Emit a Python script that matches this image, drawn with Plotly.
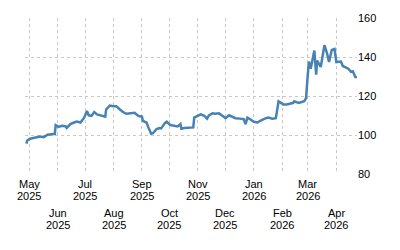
import plotly.graph_objects as go

dates = [
    "2025-04-28", "2025-04-29", "2025-05-02", "2025-05-06", "2025-05-10", "2025-05-13",
    "2025-05-17", "2025-05-21", "2025-05-26", "2025-05-29", "2025-05-30", "2025-06-02",
    "2025-06-06", "2025-06-10", "2025-06-11", "2025-06-15", "2025-06-19", "2025-06-22",
    "2025-06-26", "2025-06-30", "2025-07-03", "2025-07-05", "2025-07-08", "2025-07-11",
    "2025-07-14", "2025-07-19", "2025-07-23", "2025-07-24", "2025-07-28", "2025-08-01",
    "2025-08-04", "2025-08-08", "2025-08-11", "2025-08-15", "2025-08-19", "2025-08-24",
    "2025-08-28", "2025-09-01", "2025-09-02", "2025-09-06", "2025-09-08", "2025-09-11",
    "2025-09-13", "2025-09-17", "2025-09-20", "2025-09-22", "2025-09-26", "2025-09-28",
    "2025-10-02", "2025-10-06", "2025-10-10", "2025-10-13", "2025-10-14", "2025-10-17",
    "2025-10-22", "2025-10-27", "2025-10-28", "2025-10-31", "2025-11-04", "2025-11-08",
    "2025-11-11", "2025-11-13", "2025-11-17", "2025-11-20", "2025-11-24", "2025-11-28",
    "2025-12-01", "2025-12-05", "2025-12-08", "2025-12-12", "2025-12-17", "2025-12-21",
    "2025-12-23", "2025-12-25", "2025-12-28", "2026-01-01", "2026-01-05", "2026-01-08",
    "2026-01-14", "2026-01-17", "2026-01-21", "2026-01-25", "2026-01-28", "2026-01-30",
    "2026-02-02", "2026-02-06", "2026-02-10", "2026-02-13", "2026-02-14", "2026-02-19",
    "2026-02-25", "2026-02-27", "2026-02-28", "2026-03-02", "2026-03-04", "2026-03-08",
    "2026-03-10", "2026-03-11", "2026-03-15", "2026-03-19", "2026-03-22", "2026-03-24",
    "2026-03-27", "2026-03-30", "2026-04-01", "2026-04-06", "2026-04-08", "2026-04-11",
    "2026-04-14", "2026-04-17", "2026-04-19", "2026-04-22", "2026-04-23",
]
values = [
    95.6, 97.2, 98.1, 98.6, 98.9, 99.2,
    98.9, 100.1, 100.4, 100.6, 105.1, 104.2,
    104.7, 104.4, 103.6, 105.6, 106.4, 106.9,
    106.4, 108.9, 112.3, 110.1, 109.8, 111.8,
    110.6, 110.1, 109.4, 113.1, 115.1, 114.8,
    114.8, 113.1, 111.9, 110.9, 111.1, 111.4,
    109.8, 109.4, 107.3, 106.4, 103.9, 100.6,
    100.9, 103.1, 103.6, 103.4, 106.1, 106.8,
    105.1, 104.7, 104.4, 105.6, 103.2, 103.6,
    103.9, 103.9, 108.9, 109.8, 110.6, 109.8,
    108.4, 110.1, 111.1, 110.9, 111.1, 109.8,
    108.6, 110.1, 109.4, 108.6, 108.4, 108.1,
    105.6, 108.9, 108.1, 106.8, 106.4, 107.3,
    108.6, 108.9, 108.4, 108.6, 117.3, 116.5,
    115.7, 115.7, 116.1, 116.5, 117.3, 116.5,
    117.3, 119.0, 125.7, 137.7, 134.0, 143.3,
    131.0, 138.2, 134.9, 146.1, 141.6, 137.4,
    143.6, 144.1, 137.4, 137.7, 135.4, 134.9,
    134.0, 132.4, 132.7, 129.4, 130.4,
]

tick_dates = [
    "2025-05-01", "2025-06-01", "2025-07-01", "2025-08-01", "2025-09-01", "2025-10-01",
    "2025-11-01", "2025-12-01", "2026-01-01", "2026-02-01", "2026-03-01", "2026-04-01",
]
tick_months = ["May", "Jun", "Jul", "Aug", "Sep", "Oct", "Nov", "Dec", "Jan", "Feb", "Mar", "Apr"]
tick_years = ["2025", "2025", "2025", "2025", "2025", "2025", "2025", "2025", "2026", "2026", "2026", "2026"]
y_ticks = [80, 100, 120, 140, 160]

FONT = "Liberation Sans"
TXT = "#000000"

fig = go.Figure()
fig.add_trace(go.Scatter(
    x=dates, y=values, mode="lines",
    line=dict(color="#4682b4", width=2.5),
    hoverinfo="skip",
))

plot_top, plot_bottom = 15, 174.3
plot_h = plot_bottom - plot_top

def paper_y(py):
    return (plot_bottom - py) / plot_h

annotations = []
for i, (d, m, yv) in enumerate(zip(tick_dates, tick_months, tick_years)):
    base = 184.5 if i % 2 == 0 else 214.5
    annotations.append(dict(x=d, y=paper_y(base), xref="x", yref="paper", text=m,
                            showarrow=False, xanchor="center", yanchor="middle",
                            font=dict(family=FONT, size=11, color=TXT)))
    annotations.append(dict(x=d, y=paper_y(base + 12), xref="x", yref="paper", text=yv,
                            showarrow=False, xanchor="center", yanchor="middle",
                            font=dict(family=FONT, size=11, color=TXT)))

fig.update_layout(
    width=400, height=250,
    margin=dict(l=25, r=43, t=15, b=250 - 174.3),
    paper_bgcolor="white", plot_bgcolor="white",
    showlegend=False,
    font=dict(family=FONT, size=11, color=TXT),
    annotations=annotations,
    xaxis=dict(
        type="date",
        range=["2025-04-26 12:00", "2026-04-23 12:00"],
        tickvals=tick_dates, showticklabels=False,
        showgrid=True, gridcolor="#c8c8c8", griddash="dot", gridwidth=1,
        zeroline=False, showline=False, ticks="",
    ),
    yaxis=dict(
        side="right", range=[80, 160], tickvals=y_ticks,
        showgrid=True, gridcolor="#c8c8c8", griddash="dot", gridwidth=1,
        zeroline=False, showline=False, ticks="",
        tickfont=dict(family=FONT, size=11, color=TXT),
    ),
)

fig.write_html("out.html")
